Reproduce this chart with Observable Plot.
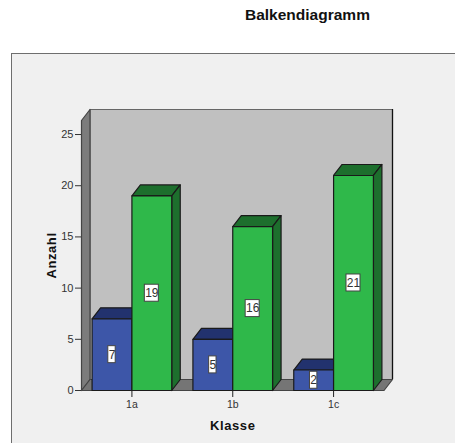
<!DOCTYPE html>
<html>
<head>
<meta charset="utf-8">
<script src="https://cdn.jsdelivr.net/npm/d3@7"></script>
<script src="https://cdn.jsdelivr.net/npm/@observablehq/plot@0.6"></script>
<style>
html,body{margin:0;padding:0;background:#fff;width:455px;height:443px;overflow:hidden;font-family:"Liberation Sans",Arial,sans-serif}
#title{position:absolute;left:245px;top:6px;font-size:15.5px;line-height:18px;font-weight:bold;color:#111;white-space:nowrap}
#panel{position:absolute;left:11px;top:53px;width:444px;height:390px;box-sizing:border-box;background:#f0f0f0;border:1px solid #6e6e6e;border-right:none;border-bottom:none}
#chart{position:absolute;left:0;top:0}
#chart svg{background:transparent !important}
</style>
</head>
<body>
<div id="title">Balkendiagramm</div>
<div id="panel"></div>
<div id="chart"></div>
<script>
const klasse = ["1a", "1b", "1c"];
const blau = [7, 5, 2];
const gruen = [19, 16, 21];
const yTicks = [0, 5, 10, 15, 20, 25];

const barW = 0.395, depX = 0.0843, depY = 1.074;
const xMin = -0.5, xMax = 2.5, yMax = 26.37;
const colors = {
  blue: {front: "#3d56a8", top: "#22326e"},
  green: {front: "#2fb84a", top: "#1d6f2d"}
};
const edge = "#1a1a1a";

function poly(id, fill, stroke, pts) {
  return pts.map(([x, y]) => ({id, fill, stroke, x, y}));
}
const walls = [
  ...poly("back", "#c0c0c0", "#666", [[xMin + depX, depY], [xMin + depX, yMax + depY], [xMax + depX, yMax + depY], [xMax + depX, depY]]),
  ...poly("left", "#7c7c7c", "#444", [[xMin, 0], [xMin, yMax], [xMin + depX, yMax + depY], [xMin + depX, depY]]),
  ...poly("floor", "#757575", "#444", [[xMin, 0], [xMin + depX, depY], [xMax + depX, depY], [xMax, 0]])
];

const bars = [];
klasse.forEach((k, i) => {
  bars.push({i, k, s: "blue", v: blau[i], x1: i - barW, x2: i});
  bars.push({i, k, s: "green", v: gruen[i], x1: i, x2: i + barW});
});

const faces = bars.flatMap(b => [
  poly(b.k + b.s + "top", colors[b.s].top, edge, [[b.x1, b.v], [b.x1 + depX, b.v + depY], [b.x2 + depX, b.v + depY], [b.x2, b.v]]),
  poly(b.k + b.s + "side", colors[b.s].top, edge, [[b.x2, 0], [b.x2, b.v], [b.x2 + depX, b.v + depY], [b.x2 + depX, depY]]),
  poly(b.k + b.s + "front", colors[b.s].front, edge, [[b.x1, 0], [b.x1, b.v], [b.x2, b.v], [b.x2, 0]])
]).flat();

const labels = bars.map(b => ({
  cx: (b.x1 + b.x2) / 2,
  cy: b.v / 2,
  text: String(b.v),
  half: String(b.v).length > 1 ? 7 : 3.7
}));

const plot = Plot.plot({
  width: 455,
  height: 443,
  marginLeft: 81,
  marginRight: 71.5,
  marginTop: 120,
  marginBottom: 53,
  style: {fontFamily: "'Liberation Sans', Arial, sans-serif", fontSize: "11px", background: "transparent"},
  x: {type: "linear", domain: [xMin, xMax]},
  y: {type: "linear", domain: [0, yMax]},
  marks: [
    Plot.line(walls, {x: "x", y: "y", z: "id", fill: "fill", stroke: "stroke", strokeWidth: 1.2, curve: "linear-closed"}),
    Plot.ruleX([xMax + depX], {y1: depY, y2: yMax + depY, stroke: "#111", strokeWidth: 1.2}),
    Plot.axisY({ticks: yTicks, tickSize: 6, tickPadding: 2, stroke: "#333", color: "#333", label: "Anzahl", labelAnchor: "center", labelArrow: "none", labelOffset: 35, fontSize: 11}),
    Plot.axisX({ticks: [0, 1, 2], tickFormat: i => klasse[i], tickSize: 7, tickPadding: 3, stroke: "#222", color: "#333", label: "Klasse", labelAnchor: "center", labelArrow: "none", labelOffset: 39, fontSize: 10.5}),
    Plot.line(faces, {x: "x", y: "y", z: "id", fill: "fill", stroke: "stroke", strokeWidth: 1.2, curve: "linear-closed"}),
    ...labels.map(l => Plot.rect([l], {x1: "cx", x2: "cx", y1: "cy", y2: "cy", insetLeft: -l.half, insetRight: -l.half, insetTop: -8.5, insetBottom: -8.5, fill: "#fff", stroke: "#444", strokeWidth: 1})),
    Plot.text(labels, {x: "cx", y: "cy", text: "text", fontSize: 12, fill: "#333"})
  ]
});
plot.querySelectorAll('[aria-label="y-axis label"] text, [aria-label="x-axis label"] text').forEach(t => {
  t.style.fontWeight = "bold"; t.style.fontSize = "13px"; t.style.fill = "#111"; t.style.letterSpacing = "0.6px";
});
document.getElementById("chart").append(plot);
</script>
</body>
</html>
